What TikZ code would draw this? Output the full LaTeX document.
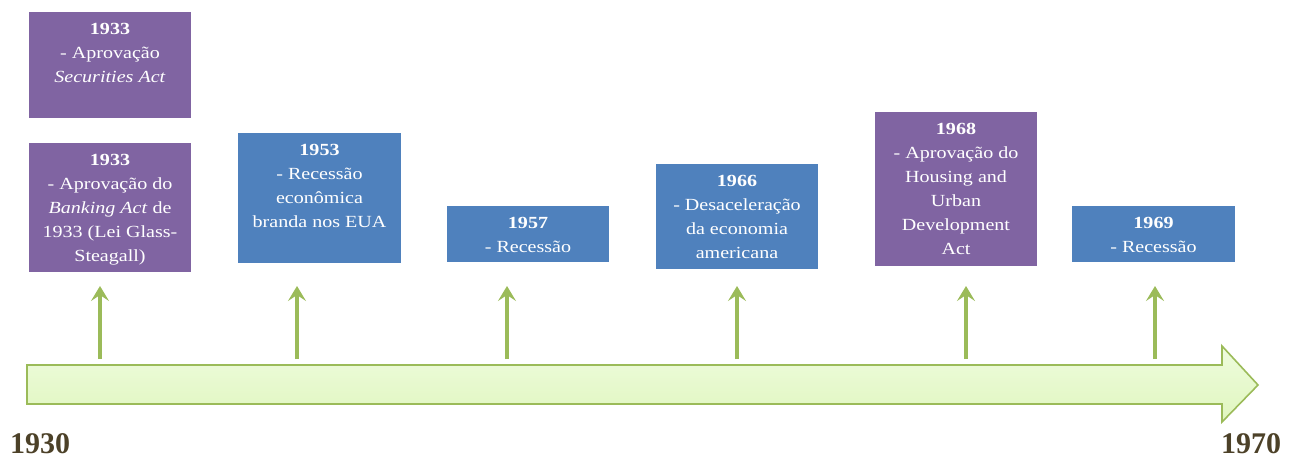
\documentclass[tikz,border=0pt]{standalone}
\usepackage{fontspec}
\setmainfont{Liberation Serif}
\newfontfamily\evfont[FakeStretch=1.18]{Liberation Serif}
\usetikzlibrary{arrows.meta}

\definecolor{evpurple}{HTML}{8064A2}
\definecolor{evblue}{HTML}{4F81BD}
\definecolor{axgreen}{HTML}{9BBB59}
\definecolor{axfilltop}{HTML}{EEFCDD}
\definecolor{axfillbot}{HTML}{E0F6BF}
\definecolor{yearcol}{HTML}{4C4128}

\begin{document}
\begin{tikzpicture}[x=1pt,y=-1pt,
  evbox/.style={draw=none, inner sep=0pt, outer sep=0pt, anchor=north west},
  purplebox/.style={evbox, fill=evpurple},
  bluebox/.style={evbox, fill=evblue},
  evtext/.style={anchor=north, inner sep=0pt, text=white, align=center,
    font=\evfont\fontsize{17}{24}\selectfont},
  tick/.style={draw=axgreen, line width=3.8pt,
    -{Stealth[length=15pt,width=18pt,inset=6pt]}},
  endyear/.style={text=yearcol, inner sep=0pt, font=\bfseries\fontsize{30}{30}\selectfont}
]
\useasboundingbox (0,0) rectangle (1291,460);

% event boxes
\node[purplebox, minimum width=162pt, minimum height=106pt] (e33a) at (29,12) {};
\node[purplebox, minimum width=162pt, minimum height=129pt] (e33b) at (29,143) {};
\node[bluebox,   minimum width=163pt, minimum height=130pt] (e53)  at (238,133) {};
\node[bluebox,   minimum width=162pt, minimum height=56pt]  (e57)  at (447,206) {};
\node[bluebox,   minimum width=162pt, minimum height=105pt] (e66)  at (656,164) {};
\node[purplebox, minimum width=162pt, minimum height=154pt] (e68)  at (875,112) {};
\node[bluebox,   minimum width=163pt, minimum height=56pt]  (e69)  at (1072,206) {};

% event texts, hanging from the top edge of each box
\node[evtext] (t33a) at ([yshift=-11pt]e33a.north) {\textbf{1933}\\- Aprovação\\\textit{Securities Act}};
\node[evtext] (t33b) at ([yshift=-11pt]e33b.north) {\textbf{1933}\\- Aprovação do\\\textit{Banking Act} de\\1933 (Lei Glass-\\Steagall)};
\node[evtext] (t53)  at ([yshift=-11pt]e53.north)  {\textbf{1953}\\- Recessão\\econômica\\branda nos EUA};
\node[evtext] (t57)  at ([yshift=-11pt]e57.north)  {\textbf{1957}\\- Recessão};
\node[evtext] (t66)  at ([yshift=-11pt]e66.north)  {\textbf{1966}\\- Desaceleração\\da economia\\americana};
\node[evtext] (t68)  at ([yshift=-11pt]e68.north)  {\textbf{1968}\\- Aprovação do\\Housing and\\Urban\\Development\\Act};
\node[evtext] (t69)  at ([yshift=-11pt]e69.north)  {\textbf{1969}\\- Recessão};

% timeline arrow
\path[draw=axgreen, line width=1.6pt, line join=miter, top color=axfilltop, bottom color=axfillbot]
  (27,365) -- (1222,365) -- (1222,346) -- (1258,385) -- (1222,422) -- (1222,404) -- (27,404) -- cycle;

% tick arrows
\foreach \name/\x in {a/100, b/297, c/507, d/737, e/966, f/1155} {
  \coordinate (s\name) at (\x,359);
  \coordinate (h\name) at (\x,286);
  \draw[tick] (s\name) -- (h\name);
}

% end years
\node[endyear, anchor=west] (y1930) at (10,444) {1930};
\node[endyear, anchor=west] (y1970) at (1221,444) {1970};
\end{tikzpicture}
\end{document}
